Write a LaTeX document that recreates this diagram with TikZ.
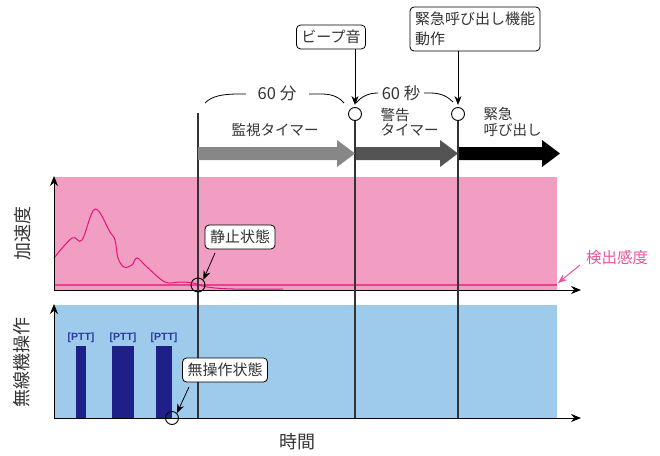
\documentclass[tikz,border=0pt]{standalone}
\usepackage{fontspec}
\setmainfont{Noto Sans CJK JP}
\newfontfamily\ptt{Liberation Sans}
\usetikzlibrary{arrows.meta}
\definecolor{pinkbg}{HTML}{F19EC2}
\definecolor{bluebg}{HTML}{9ECAEB}
\definecolor{thr}{HTML}{E4458A}
\definecolor{curve}{HTML}{E6127E}
\definecolor{navy}{HTML}{1F1F8A}
\definecolor{pttc}{HTML}{2A3AA0}
\definecolor{lab}{HTML}{E8559A}
\tikzset{
  callout/.style={draw=black, line width=0.8pt, rounded corners=4pt, fill=white, inner xsep=5pt, inner ysep=5pt, font=\fontsize{15}{20}\selectfont, align=left, text=black!80},
  tip/.style={-{Stealth[length=9pt,width=7pt]}, line width=0.8pt},
  axis/.style={-{Stealth[length=10pt,width=8pt]}, line width=1pt},
  vline/.style={line width=1.1pt, draw=black!80},
  mark circ/.style={circle, draw=black, line width=0.9pt, minimum size=13pt, inner sep=0pt},
  lbl/.style={font=\fontsize{14.5}{15}\selectfont, align=left, text=black!80},
  pttlbl/.style={font=\ptt\bfseries\fontsize{10.5}{12}\selectfont, text=pttc},
}
\begin{document}
\begin{tikzpicture}[x=1pt,y=-1pt]
\useasboundingbox (0,0) rectangle (660,455);
% backgrounds
\fill[pinkbg] (54,177) rectangle (557,290);
\fill[bluebg] (54,305) rectangle (557,418);
% threshold line
\draw[thr, line width=2pt] (54,285) -- (557,285);
% curve
\draw[curve, line width=1pt] plot[smooth, tension=0.6] coordinates {
 (54,258) (72,238) (82,240) (95,209) (110,232) (115,240) (118,258) (124,267)
 (132,265) (137,258) (147,267) (165,282) (180,282) (193,283) (207,287) (233,289) (283,289)};
% PTT bars
\fill[navy] (76,346) rectangle (86,418);
\fill[navy] (112,346) rectangle (134,418);
\fill[navy] (156,346) rectangle (172,418);
\node[pttlbl] (p1) at (81,338) {[PTT]};
\node[pttlbl] (p2) at (123,338) {[PTT]};
\node[pttlbl] (p3) at (164,338) {[PTT]};
% axes
\coordinate (o1) at (54,290);
\coordinate (x1) at (581,290);
\coordinate (y1) at (54,176);
\coordinate (o2) at (54,418);
\coordinate (x2) at (581,418);
\coordinate (y2) at (54,304);
\draw[axis] (o1) -- (x1);
\draw[axis] (o1) -- (y1);
\draw[axis] (o2) -- (x2);
\draw[axis] (o2) -- (y2);
% circles on time line
\node[mark circ] (c1) at (355,114) {};
\node[mark circ] (c2) at (458,114) {};
\coordinate (t0) at (198,113);
\coordinate (b0) at (198,418);
\coordinate (b1) at (355,418);
\coordinate (b2) at (458,418);
\draw[vline] (t0) -- (b0);
\draw[vline] (c1.south) -- (b1);
\draw[vline] (c2.south) -- (b2);
% timer arrows
\fill[black!47] (198,147) -- (337,147) -- (337,140) -- (355,153.5) -- (337,167) -- (337,160) -- (198,160) -- cycle;
\fill[black!67] (356,147) -- (440,147) -- (440,140) -- (458,153.5) -- (440,167) -- (440,160) -- (356,160) -- cycle;
\fill[black] (459,147) -- (542,147) -- (542,140) -- (560,153.5) -- (542,167) -- (542,160) -- (459,160) -- cycle;
\node[lbl] (l1) at (275,130) {監視タイマー};
\node[lbl, anchor=west, font=\fontsize{14.5}{15.5}\selectfont] (l2) at (377,122) {警告\\タイマー};
\node[lbl, anchor=west, font=\fontsize{14.5}{15.5}\selectfont] (l3) at (480,122) {緊急\\呼び出し};
% braces
\node[lbl, font=\fontsize{16.5}{17}\selectfont] (m60) at (277,93) {60 分};
\node[lbl, font=\fontsize{16.5}{17}\selectfont] (s60) at (401,93) {60 秒};
\draw[line width=0.8pt] (205,103) .. controls (212,96) and (222,94) .. (240,94) -- (246,94);
\draw[line width=0.8pt] (309,94) -- (322,94) .. controls (333,94) and (340,98) .. (344,103);
\draw[line width=0.8pt] (356,103) .. controls (361,97) and (368,93) .. (378,93);
\draw[line width=0.8pt] (424,93) -- (430,93) .. controls (442,93) and (448,97) .. (453,102);
% callouts
\node[callout] (beep) at (331,37) {ビープ音};
\node[callout] (emg) at (475,29) {緊急呼び出し機能\\動作};
\coordinate (a1) at (355,105);
\coordinate (a2) at (458,105);
\draw[tip] (beep.south -| c1) -- (a1);
\draw[tip] (emg.south -| c2) -- (a2);
\node[mark circ, minimum size=14pt] (c0) at (198,285) {};
\node[callout] (still) at (240,237) {静止状態};
\draw[tip] (215,253) -- (c0.north east);
\node[mark circ] (c3) at (172,418) {};
\node[callout] (noop) at (225,370) {無操作状態};
\draw[tip] (189,387) -- (c3.north east);
% sensitivity label
\node[font=\fontsize{15.5}{17}\selectfont, text=lab] (sens) at (617,258) {検出感度};
\coordinate (sp) at (558,283);
\draw[lab, line width=1pt, -{Stealth[length=9pt,width=7pt]}] (580,265) -- (sp);
% axis titles
\node[rotate=90, font=\fontsize{18}{20}\selectfont, text=black!80] (ya) at (23,233) {加速度};
\node[rotate=90, font=\fontsize{18}{20}\selectfont, text=black!80] (yb) at (22,362) {無線機操作};
\node[font=\fontsize{18}{20}\selectfont, text=black!80] (xa) at (297,442) {時間};
\end{tikzpicture}
\end{document}
